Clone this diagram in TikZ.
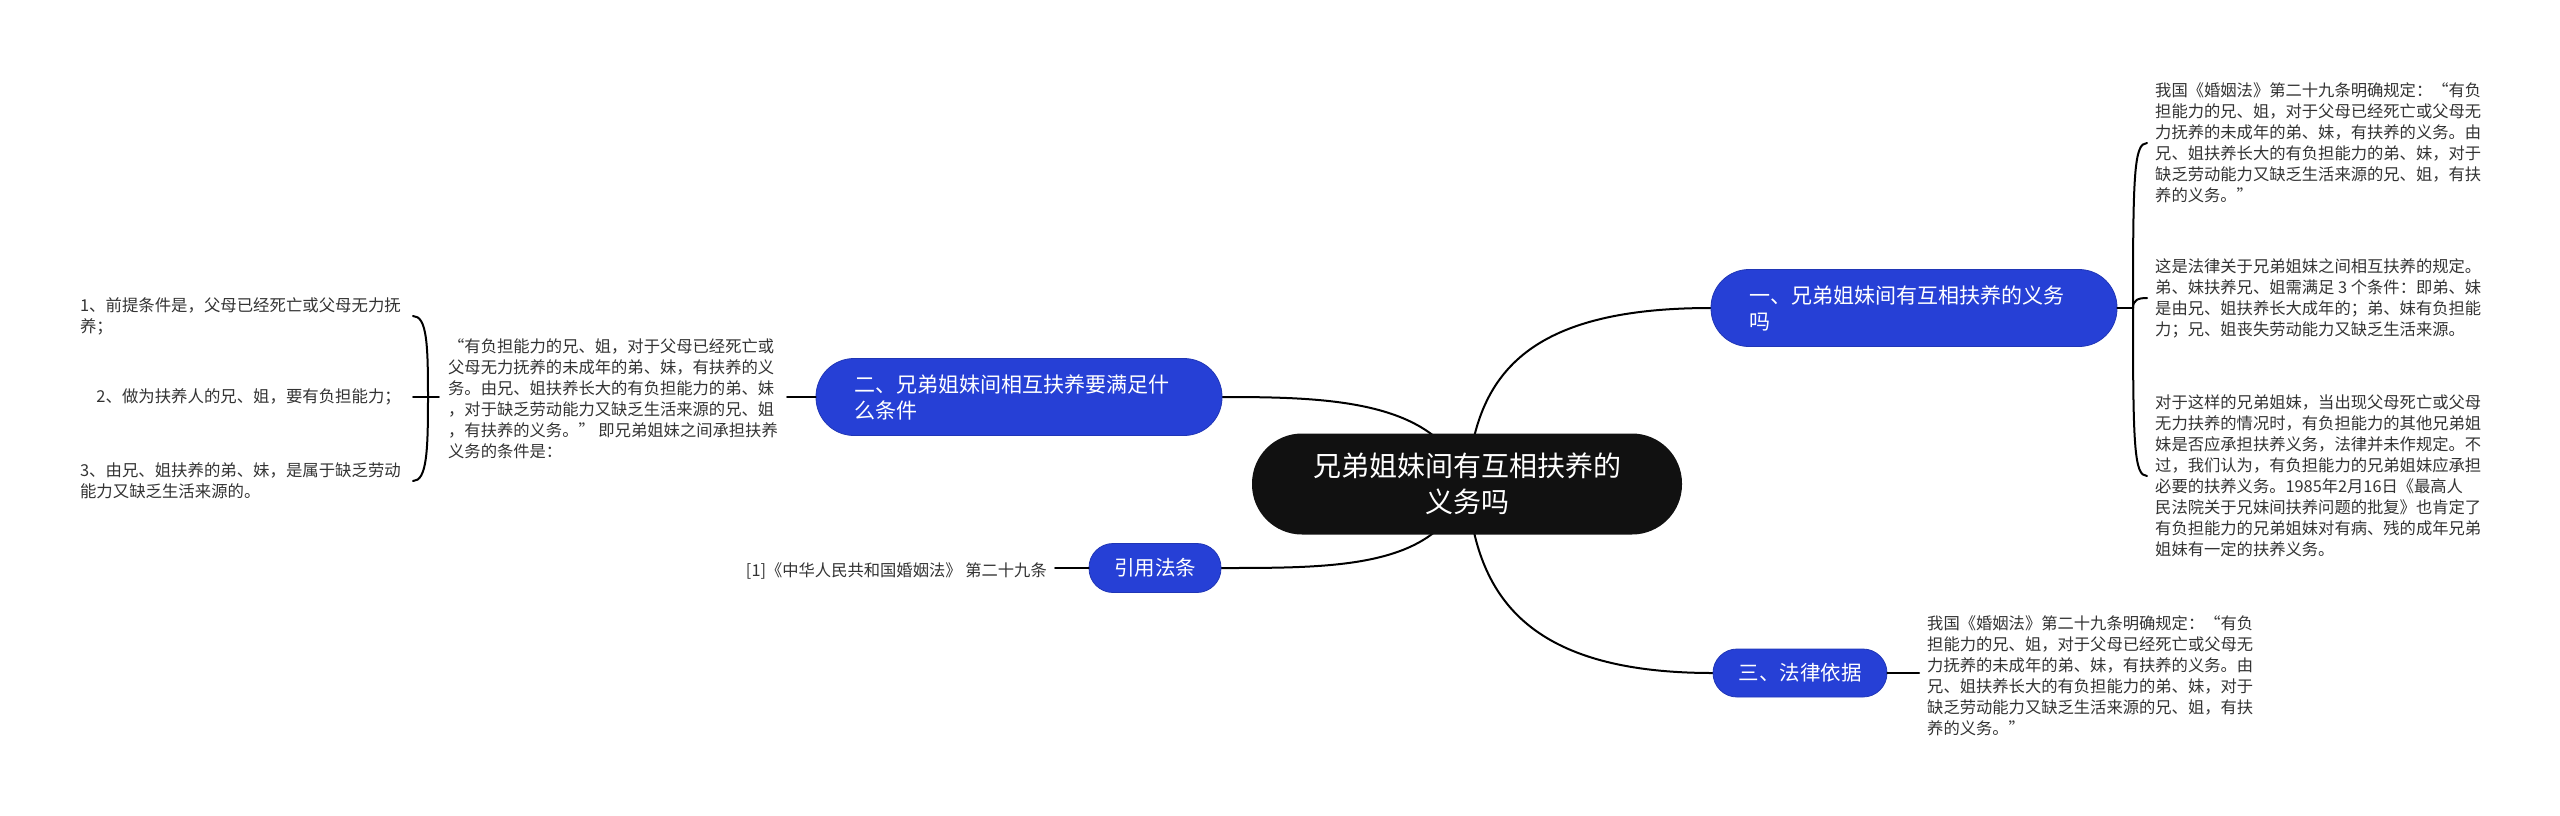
\documentclass[tikz,border=0pt]{standalone}
\usepackage{fontspec}
\setmainfont{Noto Sans CJK SC}
\usetikzlibrary{backgrounds}
\definecolor{nodeblue}{RGB}{38,64,214}
\definecolor{txt}{RGB}{51,51,51}
\definecolor{rootfill}{RGB}{17,17,17}
\tikzset{
  rootnode/.style={fill=rootfill, text=white, rounded corners=50, minimum width=430, minimum height=101, align=center, inner sep=0, font=\fontsize{28}{36}\selectfont},
  topicnode/.style={fill=nodeblue, draw=nodeblue!85!black, line width=0.8, text=white, rounded corners=38, minimum height=77, align=left, text width=330, inner xsep=38, inner ysep=0, font=\fontsize{21}{26}\selectfont},
  smalltopic/.style={fill=nodeblue, draw=nodeblue!85!black, line width=0.8, text=white, rounded corners=24, minimum height=49, align=center, inner xsep=0, inner ysep=0, font=\fontsize{20.5}{26}\selectfont},
  leaf/.style={text=txt, align=left, inner xsep=8, inner ysep=2, font=\fontsize{16.3}{21}\selectfont},
  leafsmall/.style={text=txt, align=left, inner xsep=12, inner ysep=2, font=\fontsize{16.4}{21}\selectfont},
  conn/.style={draw=black, line width=2, line cap=round}
}
\begin{document}
\begin{tikzpicture}[x=1pt,y=-1pt]
\useasboundingbox (0,0) rectangle (2560,815);
% root
\node[rootnode] (c) at (1467,484) {兄弟姐妹间有互相扶养的\\义务吗};
% topics
\node[topicnode, minimum width=405] (n1) at (1914,308) {一、兄弟姐妹间有互相扶养的义务\\吗};
\node[topicnode, minimum width=405] (n2) at (1019,397) {二、兄弟姐妹间相互扶养要满足什\\么条件};
\node[smalltopic, minimum width=132] (n4) at (1155,568) {引用法条};
\node[smalltopic, minimum width=174, minimum height=48] (n3) at (1800,673) {三、法律依据};
% leaves of n1
\node[leaf, anchor=west] (t1a) at (2147,143) {我国《婚姻法》第二十九条明确规定：“有负\\%
担能力的兄、姐，对于父母已经死亡或父母无\\%
力抚养的未成年的弟、妹，有扶养的义务。由\\%
兄、姐扶养长大的有负担能力的弟、妹，对于\\%
缺乏劳动能力又缺乏生活来源的兄、姐，有扶\\%
养的义务。”};
\node[leaf, anchor=west] (t1b) at (2147,298) {这是法律关于兄弟姐妹之间相互扶养的规定。\\%
弟、妹扶养兄、姐需满足 3 个条件：即弟、妹\\%
是由兄、姐扶养长大成年的；弟、妹有负担能\\%
力；兄、姐丧失劳动能力又缺乏生活来源。};
\node[leaf, anchor=west] (t1c) at (2147,476) {对于这样的兄弟姐妹，当出现父母死亡或父母\\%
无力扶养的情况时，有负担能力的其他兄弟姐\\%
妹是否应承担扶养义务，法律并未作规定。不\\%
过，我们认为，有负担能力的兄弟姐妹应承担\\%
必要的扶养义务。1985年2月16日《最高人\\%
民法院关于兄妹间扶养问题的批复》也肯定了\\%
有负担能力的兄弟姐妹对有病、残的成年兄弟\\%
姐妹有一定的扶养义务。};
% leaf of n3
\node[leaf, anchor=west] (t3) at (1919,676) {我国《婚姻法》第二十九条明确规定：“有负\\%
担能力的兄、姐，对于父母已经死亡或父母无\\%
力抚养的未成年的弟、妹，有扶养的义务。由\\%
兄、姐扶养长大的有负担能力的弟、妹，对于\\%
缺乏劳动能力又缺乏生活来源的兄、姐，有扶\\%
养的义务。”};
% leaf of n4
\node[leaf, anchor=east] (t4) at (1055,571) {[1]《中华人民共和国婚姻法》 第二十九条};
% leaf of n2
\node[leaf, anchor=east, inner xsep=9] (t2) at (787,399) {“有负担能力的兄、姐，对于父母已经死亡或\\%
父母无力抚养的未成年的弟、妹，有扶养的义\\%
务。由兄、姐扶养长大的有负担能力的弟、妹\\%
，对于缺乏劳动能力又缺乏生活来源的兄、姐\\%
，有扶养的义务。” 即兄弟姐妹之间承担扶养\\%
义务的条件是：};
% children of t2
\node[leafsmall, anchor=east] (c1) at (413,316) {1、前提条件是，父母已经死亡或父母无力抚\\养；};
\node[leafsmall, anchor=east] (c2) at (413,397) {2、做为扶养人的兄、姐，要有负担能力；};
\node[leafsmall, anchor=east] (c3) at (413,481) {3、由兄、姐扶养的弟、妹，是属于缺乏劳动\\能力又缺乏生活来源的。};
% brace points
\coordinate (b1) at (2133,308);
\coordinate (b2) at (428,397);
\begin{pgfonlayer}{background}
\draw[conn] (c.center) .. controls (1475,380) and (1520,308) .. (n1.west);
\draw[conn] (c.center) .. controls (1475,590) and (1520,673) .. (n3.west);
\draw[conn] (c.center) .. controls (1440,400) and (1330,397) .. (n2.east);
\draw[conn] (c.center) .. controls (1440,568) and (1340,568) .. (n4.east);
\end{pgfonlayer}
% n1 brace
\draw[conn] (n1.east) -- (b1);
\draw[conn] (b1) .. controls (2133,175) and (2134,143) .. (t1a.west);
\draw[conn] (b1) .. controls (2133,300) and (2138,298) .. (t1b.west);
\draw[conn] (b1) .. controls (2133,445) and (2134,476) .. (t1c.west);
% n3 and n4
\draw[conn] (n3.east) -- (n3.east -| t3.west);
\draw[conn] (n4.west) -- (n4.west -| t4.east);
% n2 and its brace
\draw[conn] (n2.west) -- (n2.west -| t2.east);
\draw[conn] (t2.west |- b2) -- (b2);
\draw[conn] (b2) -- (c2.east);
\draw[conn] (b2) .. controls (428,345) and (427,316) .. (c1.east);
\draw[conn] (b2) .. controls (428,450) and (427,481) .. (c3.east);
\end{tikzpicture}
\end{document}
